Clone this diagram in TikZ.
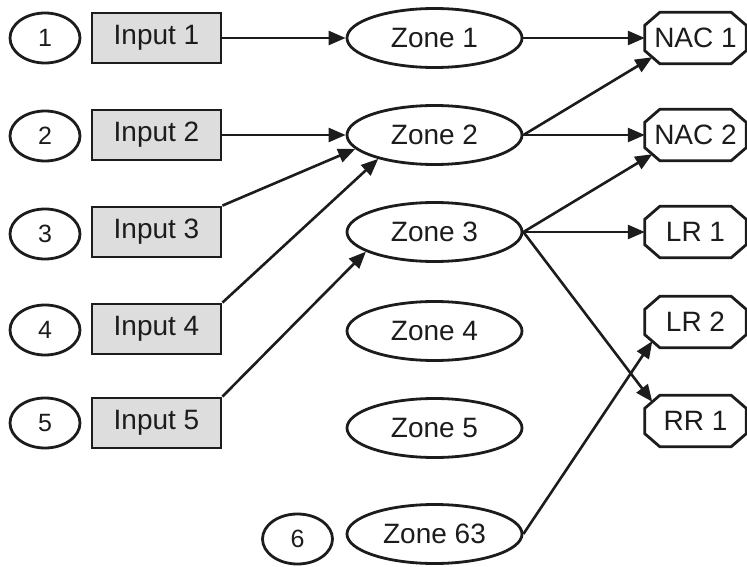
\documentclass[tikz,border=0pt]{standalone}
\usepackage{fontspec}
\setmainfont{Liberation Sans}
\usetikzlibrary{arrows.meta,shapes.geometric}
\definecolor{inputgray}{RGB}{221,221,221}
\definecolor{ink}{RGB}{28,28,28}
\tikzset{
  every node/.style={font=\fontsize{28}{33}\selectfont, text=ink},
  numell/.style={ellipse, draw=ink, line width=2.8pt, minimum width=70pt, minimum height=50pt, inner sep=0pt, font=\fontsize{25}{30}\selectfont},
  inbox/.style={rectangle, draw=ink, line width=2.8pt, fill=inputgray, minimum width=129pt, minimum height=50pt, inner sep=0pt},
  zoneell/.style={ellipse, draw=ink, line width=2.8pt, minimum width=175pt, minimum height=59pt, inner sep=0pt},
  outbox/.style={rectangle, minimum width=101pt, minimum height=51pt, inner sep=0pt},
  octline/.style={draw=ink, line width=2.8pt, line join=miter},
  conn/.style={draw=ink, line width=2.6pt, -{Triangle[length=17pt,width=14pt]}}
}
\begin{document}
\begin{tikzpicture}[x=1pt,y=-1pt]
\useasboundingbox (0,0) rectangle (747,567);
% number ellipses
\node[numell] (c1) at (45,38) {1};
\node[numell] (c2) at (45,136) {2};
\node[numell] (c3) at (45,234) {3};
\node[numell] (c4) at (45,330) {4};
\node[numell] (c5) at (45,423) {5};
\node[numell] (c6) at (297.5,539) {6};
% inputs
\node[inbox] (in1) at (156.5,38) {Input 1};
\node[inbox] (in2) at (156.5,135) {Input 2};
\node[inbox] (in3) at (156.5,232) {Input 3};
\node[inbox] (in4) at (156.5,329) {Input 4};
\node[inbox] (in5) at (156.5,423) {Input 5};
% zones
\node[zoneell] (z1) at (434.5,38) {Zone 1};
\node[zoneell] (z2) at (434.5,135) {Zone 2};
\node[zoneell] (z3) at (434.5,232) {Zone 3};
\node[zoneell] (z4) at (434.5,331) {Zone 4};
\node[zoneell] (z5) at (434.5,428) {Zone 5};
\node[zoneell] (z63) at (434.5,534) {Zone 63};
% outputs
\node[outbox] (nac1) at (695.5,38) {NAC 1};
\node[outbox] (nac2) at (695.5,135) {NAC 2};
\node[outbox] (lr1) at (695.5,232) {LR 1};
\node[outbox] (lr2) at (695.5,322) {LR 2};
\node[outbox] (rr1) at (695.5,421) {RR 1};
\foreach \n in {nac1,nac2,lr1,lr2,rr1}{
  \draw[octline] ([xshift=15pt]\n.north west) -- ([xshift=-15pt]\n.north east)
    -- ([yshift=-13pt]\n.north east) -- ([yshift=13pt]\n.south east)
    -- ([xshift=-15pt]\n.south east) -- ([xshift=15pt]\n.south west)
    -- ([yshift=13pt]\n.south west) -- ([yshift=-13pt]\n.north west) -- cycle;
}
% connectors
\draw[conn] (in1.east) -- (z1.west);
\draw[conn] (in2.east) -- (z2.west);
\draw[conn] (in3.north east) -- (z2.190);
\draw[conn] (in4.north east) -- (z2.203);
\draw[conn] (in5.north east) -- (z3.196);
\draw[conn] (z1.east) -- (nac1.west);
\draw[conn] (z2.east) -- ([shift={(7.5pt,6.5pt)}]nac1.south west);
\draw[conn] (z2.east) -- (nac2.west);
\draw[conn] (z3.east) -- ([shift={(7.5pt,6.5pt)}]nac2.south west);
\draw[conn] (z3.east) -- (lr1.west);
\draw[conn] (z3.east) -- ([shift={(7.5pt,-6.5pt)}]rr1.north west);
\draw[conn] (z63.east) -- ([shift={(7.5pt,6.5pt)}]lr2.south west);
\end{tikzpicture}
\end{document}
